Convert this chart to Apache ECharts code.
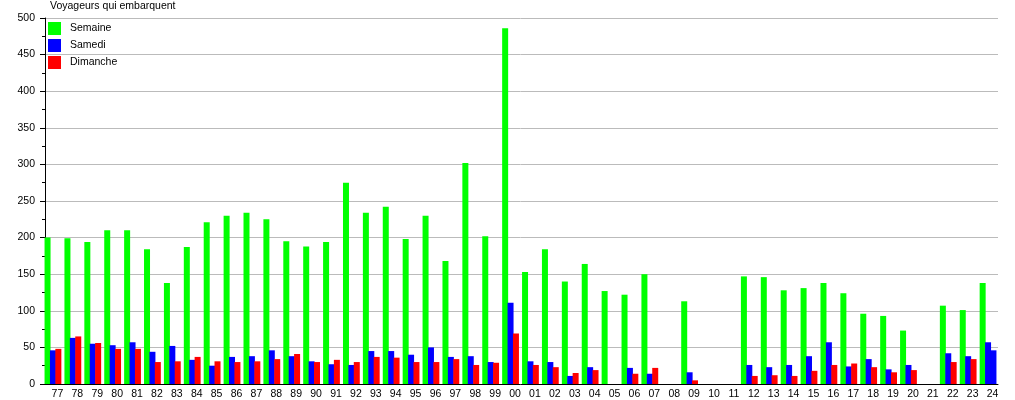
<!DOCTYPE html>
<html><head><meta charset="utf-8">
<script src="https://cdn.jsdelivr.net/npm/echarts@6/dist/echarts.min.js"></script>
<style>html,body{margin:0;padding:0;background:#fff}#c{width:1015px;height:400px}</style>
</head><body><div id="c"></div>
<script>
var categories = ['77','78','79','80','81','82','83','84','85','86','87','88','89','90','91','92','93','94','95','96','97','98','99','00','01','02','03','04','05','06','07','08','09','10','11','12','13','14','15','16','17','18','19','20','21','22','23','24'];
var semaine = [200,199,194,210,210,184,138,187,221,230,234,225,195,188,194,275,234,242,198,230,168,302,202,486,153,184,140,164,127,122,150,0,113,0,0,147,146,128,131,138,124,96,93,73,0,107,101,138];
var samedi = [46,63,55,53,57,44,52,33,25,37,38,46,38,31,27,26,45,45,40,50,37,38,30,111,31,30,11,23,0,22,14,0,16,0,0,26,23,26,38,57,24,34,20,26,0,42,38,57];
var dimanche = [48,65,56,48,48,30,31,37,31,30,31,34,41,30,33,30,37,36,30,30,34,26,29,69,26,23,15,19,0,14,22,0,5,0,0,11,12,11,18,26,28,23,16,19,0,30,34,46];
var yTicks = [0,50,100,150,200,250,300,350,400,450,500];

var dimData = dimanche.map(function(v,i){
  if (i === dimanche.length-1) return {value:v, itemStyle:{color:'#0000ff'}};
  return v;
});
var font = 'Liberation Sans, Arial, sans-serif';
var chart = echarts.init(document.getElementById('c'), null, {renderer:'canvas'});
chart.setOption({
  animation:false,
  backgroundColor:'#ffffff',
  title:{text:'Voyageurs qui embarquent', left:50, top:1, padding:0, textStyle:{fontFamily:font, fontSize:10.5, fontWeight:'normal', color:'#000'}},
  legend:{orient:'vertical', left:48, top:22, padding:0, itemWidth:13, itemHeight:13, itemGap:4, icon:'rect',
    textStyle:{fontFamily:font, fontSize:10.5, color:'#000', padding:[0,0,0,4]},
    data:['Semaine','Samedi','Dimanche']},
  grid:{left:43, right:17, top:18, bottom:13, containLabel:false},
  xAxis:{type:'category', data:categories, axisLine:{lineStyle:{color:'#000'}}, axisTick:{show:false},
    axisLabel:{fontFamily:font, fontSize:10.5, color:'#000', margin:5, interval:0, padding:[0,0,0,9]}},
  yAxis:{type:'value', min:0, max:500, interval:50, offset:-2,
    axisLine:{show:true, lineStyle:{color:'#000'}},
    axisTick:{show:true, length:5, lineStyle:{color:'#000'}},
    minorTick:{show:true, splitNumber:2, length:3, lineStyle:{color:'#000'}},
    splitLine:{lineStyle:{color:'#bbbbbb'}},
    axisLabel:{fontFamily:font, fontSize:10.5, color:'#000', margin:10}},
  series:[
    {name:'Semaine', type:'bar', data:semaine, itemStyle:{color:'#00ff00'}, barWidth:6, barGap:'-10%'},
    {name:'Samedi', type:'bar', data:samedi, itemStyle:{color:'#0000ff'}, barWidth:6, barGap:'-10%'},
    {name:'Dimanche', type:'bar', data:dimData, itemStyle:{color:'#ff0000'}, barWidth:6, barGap:'-10%'}
  ]
});
</script></body></html>
